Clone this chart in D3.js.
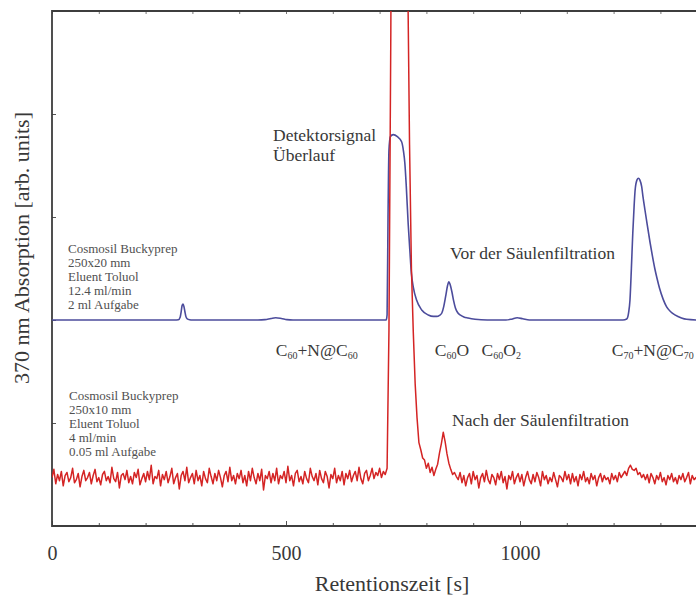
<!DOCTYPE html>
<html>
<head>
<meta charset="utf-8">
<script src="https://cdn.jsdelivr.net/npm/d3@7/dist/d3.min.js"></script>
<style>
  html, body { margin: 0; padding: 0; background: #fff; }
  svg { display: block; }
  text { font-family: "Liberation Serif", "Times New Roman", serif; }
</style>
</head>
<body>
<svg id="chart" width="696" height="595"></svg>
<script>
// ---- data -------------------------------------------------------------
// x ticks (retention time, s)
const xTickValues = [0, 100, 200, 300, 400, 500, 600, 700, 800, 900, 1000, 1100, 1200, 1300, 1400];
const xTickLabels = { 0: "0", 500: "500", 1000: "1000" };
const yTickValues = [1, 2, 3, 4];

// Before column filtration (blue): [time s, absorption]
const blueTrace = [
  [0,2.0],[100,2.0],[200,2.0],[262,2.0],[270,2.003],[274,2.03],[276,2.08],[278,2.14],[280,2.155],
  [282,2.13],[284,2.08],[286,2.035],[289,2.01],[294,2.002],[300,2.0],[440,2.0],[455,2.004],[468,2.015],
  [478,2.022],[490,2.015],[502,2.004],[515,2.0],[700,2.0],[714,2.0],[716,2.05],[718,3.0],[720,3.65],
  [723,3.78],[729,3.80],[738,3.78],[747,3.73],[751,3.64],[754,3.52],[757,3.30],[761,2.94],[765,2.65],
  [768,2.45],[772,2.32],[779,2.194],[790,2.097],[804,2.049],[815,2.035],[822,2.035],[828,2.045],
  [833,2.068],[837,2.13],[841,2.226],[845,2.33],[848,2.372],[851,2.34],[855,2.262],[858,2.19],
  [862,2.117],[867,2.07],[872,2.049],[880,2.03],[889,2.02],[904,2.008],[930,2.0],[970,2.0],
  [982,2.008],[994,2.022],[1006,2.012],[1020,2.0],[1220,2.0],[1228,2.01],[1232,2.07],[1235,2.194],
  [1238,2.5],[1241,2.845],[1244,3.12],[1246,3.262],[1250,3.36],[1253,3.376],[1256,3.36],[1260,3.294],
  [1263,3.19],[1267,3.068],[1272,2.92],[1278,2.75],[1283,2.62],[1288,2.50],[1293,2.40],[1298,2.31],
  [1306,2.20],[1313,2.13],[1322,2.08],[1331,2.05],[1345,2.02],[1356,2.007],[1380,2.0]
];

// After column filtration (red): detector samples every redStep seconds from t = 0
const redStep = 4;
const redSignal = [
  0.47,0.55,0.41,0.50,0.44,0.53,0.39,0.49,0.52,0.43,0.47,0.56,0.42,0.45,0.51,0.38,0.48,0.54,0.44,0.47,
  0.52,0.41,0.49,0.55,0.43,0.47,0.40,0.50,0.53,0.44,0.48,0.42,0.57,0.46,0.43,0.52,0.37,0.49,0.51,0.45,
  0.54,0.42,0.48,0.41,0.52,0.47,0.55,0.40,0.46,0.51,0.43,0.53,0.45,0.59,0.41,0.48,0.46,0.54,0.39,0.50,
  0.45,0.53,0.42,0.48,0.56,0.41,0.47,0.51,0.36,0.49,0.53,0.44,0.57,0.42,0.47,0.51,0.41,0.54,0.44,0.49,
  0.39,0.53,0.46,0.42,0.56,0.48,0.41,0.51,0.44,0.54,0.47,0.38,0.49,0.53,0.43,0.57,0.44,0.49,0.41,0.51,
  0.46,0.54,0.42,0.49,0.39,0.53,0.44,0.56,0.47,0.41,0.51,0.44,0.55,0.35,0.49,0.46,0.53,0.42,0.51,0.44,
  0.56,0.41,0.49,0.46,0.53,0.42,0.58,0.44,0.49,0.39,0.51,0.54,0.43,0.48,0.41,0.53,0.46,0.42,0.56,0.48,
  0.44,0.51,0.40,0.54,0.46,0.42,0.53,0.48,0.37,0.50,0.46,0.56,0.42,0.49,0.44,0.53,0.40,0.51,0.46,0.54,
  0.43,0.49,0.53,0.44,0.57,0.46,0.41,0.51,0.54,0.44,0.49,0.56,0.46,0.52,0.49,0.56,0.47,0.53,0.50,
  // overloaded main peak and C60O
  0.56,1.9,4.8,9.5,14,19,23,24,20,14,
  8.5,5.4,3.7,2.5,1.88,1.38,1.05,0.81,0.74,0.66,
  0.64,0.56,0.61,0.52,0.57,0.49,0.55,0.60,0.71,0.80,
  0.91,0.82,0.70,0.61,0.55,0.50,0.52,0.48,
  0.45,0.52,0.42,0.49,0.39,0.47,0.51,0.41,0.53,0.45,0.49,0.37,0.47,0.51,0.43,0.54,0.45,0.41,0.50,0.47,
  0.40,0.51,0.45,0.53,0.42,0.48,0.36,0.49,0.45,0.53,0.41,0.47,0.51,0.43,0.50,0.39,0.47,0.53,0.45,0.41,
  0.50,0.43,0.52,0.47,0.39,0.53,0.45,0.49,0.41,0.47,0.43,0.52,0.45,0.38,0.49,0.47,0.43,0.53,0.45,0.50,
  0.41,0.51,0.43,0.48,0.39,0.50,0.45,0.53,0.43,0.47,0.41,0.51,0.45,0.49,0.39,0.47,0.51,0.43,0.49,0.45,
  0.47,0.41,0.51,0.45,0.49,0.43,0.52,0.47,
  // C70 region
  0.50,0.53,0.49,0.56,0.59,0.55,0.54,0.56,0.50,0.52,0.47,0.50,
  0.45,0.50,0.42,0.51,0.47,0.41,0.49,0.45,0.52,0.43,0.47,0.40,0.49,0.45,0.51,0.43,0.47,0.41,0.49,0.45,
  0.51,0.43,0.47,0.52,0.41,0.49,0.45,0.47,0.43
];

// text annotations
const blueConditions = ["Cosmosil Buckyprep", "250x20 mm", "Eluent Toluol", "12.4 ml/min", "2 ml Aufgabe"];
const redConditions = ["Cosmosil Buckyprep", "250x10 mm", "Eluent Toluol", "4 ml/min", "0.05 ml Aufgabe"];
// compound labels: parts as [text, isSubscript]
const compoundLabels = [
  { t: 478, parts: [["C",0],["60",1],["+N@C",0],["60",1]] },
  { t: 818, parts: [["C",0],["60",1],["O",0]] },
  { t: 918, parts: [["C",0],["60",1],["O",0],["2",1]] },
  { t: 1196, parts: [["C",0],["70",1],["+N@C",0],["70",1]] }
];

// ---- layout -----------------------------------------------------------
const svg = d3.select("#chart");
const plot = { left: 52, top: 11, bottom: 526 };
const x = d3.scaleLinear().domain([0, 1000]).range([plot.left, 520]);
const y = d3.scaleLinear().domain([0, 5]).range([plot.bottom, plot.top]);
const xMax = 1400;
const axisColor = "#3d3d3d";
const textColor = "#383838";

svg.append("rect").attr("width", 696).attr("height", 595).attr("fill", "#fff");

svg.append("defs").append("clipPath").attr("id", "plotClip")
  .append("rect").attr("x", plot.left).attr("y", plot.top)
  .attr("width", x(xMax) - plot.left).attr("height", plot.bottom - plot.top);

// ---- axes -------------------------------------------------------------
const bottomAxis = d3.axisBottom(x).tickValues(xTickValues).tickSizeOuter(0)
  .tickSizeInner(-3).tickPadding(20)
  .tickFormat(d => xTickLabels[d] !== undefined ? xTickLabels[d] : "");
const gx = svg.append("g").attr("transform", `translate(0,${plot.bottom})`).call(bottomAxis);
gx.select(".domain").remove();
gx.selectAll(".tick line").attr("stroke", "#555")
  .attr("y2", d => d % 500 === 0 ? -5 : -3);
gx.selectAll(".tick text").attr("font-size", 20).attr("fill", textColor)
  .attr("font-family", "Liberation Serif");

const topAxis = d3.axisTop(x).tickValues(xTickValues).tickSizeOuter(0).tickSizeInner(-3).tickFormat("");
const gt = svg.append("g").attr("transform", `translate(0,${plot.top})`).call(topAxis);
gt.select(".domain").remove();
gt.selectAll(".tick line").attr("stroke", "#777");

const leftAxis = d3.axisLeft(y).tickValues(yTickValues).tickSizeOuter(0).tickSizeInner(-4).tickFormat("");
const gy = svg.append("g").attr("transform", `translate(${plot.left},0)`).call(leftAxis);
gy.select(".domain").remove();
gy.selectAll(".tick line").attr("stroke", "#555");

// frame (right side lies past the visible width)
svg.append("path")
  .attr("d", `M${x(xMax)},${plot.top}H${plot.left}V${plot.bottom}H${x(xMax)}`)
  .attr("fill", "none").attr("stroke", axisColor).attr("stroke-width", 1.8);

// ---- traces -----------------------------------------------------------
const traces = svg.append("g").attr("clip-path", "url(#plotClip)");

const blueLine = d3.line().x(d => x(d[0])).y(d => y(d[1])).curve(d3.curveMonotoneX);
traces.append("path").datum(blueTrace)
  .attr("d", blueLine).attr("fill", "none")
  .attr("stroke", "#4c4c9c").attr("stroke-width", 1.6).attr("stroke-linejoin", "round");

const redLine = d3.line().x((d, i) => x(i * redStep)).y(d => y(d));
traces.append("path").datum(redSignal)
  .attr("d", redLine).attr("fill", "none")
  .attr("stroke", "#d42424").attr("stroke-width", 1.5).attr("stroke-linejoin", "round");

// ---- labels -----------------------------------------------------------
svg.append("text").attr("transform", "translate(29,248) rotate(-90)")
  .attr("text-anchor", "middle").attr("font-size", 22).attr("fill", textColor)
  .text("370 nm Absorption [arb. units]");

svg.append("text").attr("x", 392).attr("y", 591)
  .attr("text-anchor", "middle").attr("font-size", 22).attr("fill", textColor)
  .text("Retentionszeit [s]");

function block(lines, x0, y0) {
  const t = svg.append("text").attr("font-size", 13).attr("fill", "#505050");
  lines.forEach((s, i) => t.append("tspan").attr("x", x0).attr("y", y0 + i * 14).text(s));
}
block(blueConditions, 68, 253);
block(redConditions, 69, 400);

const note = svg.append("text").attr("font-size", 17.5).attr("fill", textColor);
note.append("tspan").attr("x", 273).attr("y", 141).text("Detektorsignal");
note.append("tspan").attr("x", 273).attr("y", 161).text("Überlauf");

svg.append("text").attr("x", 450).attr("y", 259).attr("font-size", 17.5).attr("fill", textColor)
  .text("Vor der Säulenfiltration");
svg.append("text").attr("x", 452).attr("y", 426).attr("font-size", 17.5).attr("fill", textColor)
  .text("Nach der Säulenfiltration");

// chemical formulas with subscripted atom counts
compoundLabels.forEach(c => {
  const t = svg.append("text").attr("x", x(c.t)).attr("y", 356)
    .attr("font-size", 17.5).attr("fill", textColor);
  let prevSub = false;
  c.parts.forEach(([s, sub]) => {
    const sp = t.append("tspan").text(s);
    if (sub) sp.attr("font-size", 10);
    sp.attr("dy", sub && !prevSub ? 3 : (!sub && prevSub ? -3 : 0));
    prevSub = !!sub;
  });
});
</script>
</body>
</html>
